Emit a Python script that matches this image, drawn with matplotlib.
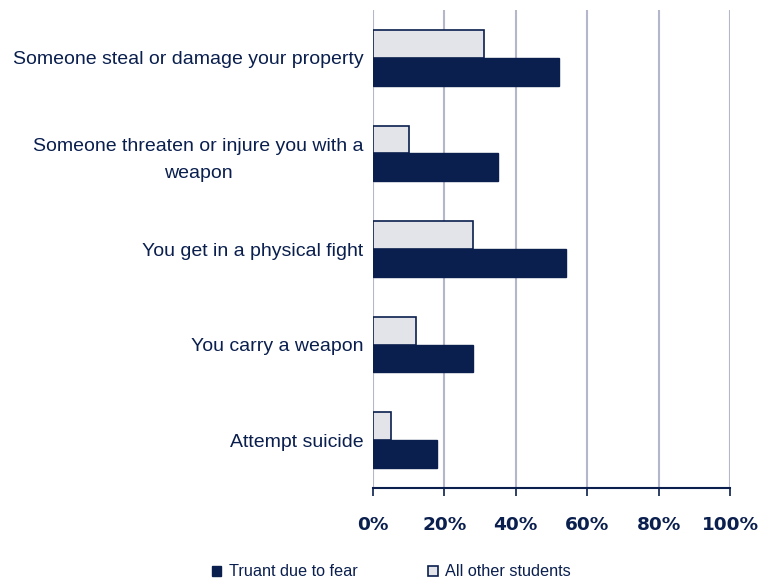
import matplotlib
matplotlib.use("Agg")
import matplotlib.pyplot as plt
import numpy as np
from matplotlib.ticker import FuncFormatter

categories = [
    "Someone steal or damage your property",
    "Someone threaten or injure you with a\nweapon",
    "You get in a physical fight",
    "You carry a weapon",
    "Attempt suicide",
]
truant_due_to_fear = [52, 35, 54, 28, 18]
all_other_students = [31, 10, 28, 12, 5]
series_labels = ["Truant due to fear", "All other students"]
x_ticks = [0, 20, 40, 60, 80, 100]

navy = "#0a1f4e"
light = "#e3e4ea"
grid_c = "#b4b6cc"

fig = plt.figure(figsize=(7.75, 5.82), dpi=100)
ax = fig.add_axes([373 / 775, 1 - 488 / 582, 357 / 775, 478 / 582])

y = np.arange(len(categories))
h = 0.29
b1 = ax.barh(y + h / 2, truant_due_to_fear, height=h, color=navy,
             edgecolor=navy, linewidth=1, label=series_labels[0], zorder=3)
b2 = ax.barh(y - h / 2, all_other_students, height=h, color=light,
             edgecolor=navy, linewidth=1.2, label=series_labels[1], zorder=3)

ax.set_ylim(len(categories) - 0.5, -0.5)
ax.set_xlim(0, 100)
ax.set_yticks(y)
ax.set_yticklabels(categories, fontsize=14.0, color=navy,
                   family="Liberation Sans")
for lbl in ax.get_yticklabels():
    lbl.set_linespacing(1.7)
    lbl.set_multialignment("center")
ax.tick_params(axis="y", length=0, pad=7)
ax.set_xticks(x_ticks)
ax.xaxis.set_major_formatter(FuncFormatter(lambda v, p: f"{v:.0f}%"))
for lbl in ax.get_xticklabels():
    lbl.set_fontweight("bold")
    lbl.set_fontsize(13.3)
    lbl.set_color(navy)
    lbl.set_family("DejaVu Sans")
ax.tick_params(axis="x", direction="out", length=6, width=1.2,
               color=navy, pad=14)

ax.grid(axis="x", color=grid_c, linewidth=1.5, zorder=0)
for s in ["top", "right", "left"]:
    ax.spines[s].set_visible(False)
ax.spines["bottom"].set_color(navy)
ax.spines["bottom"].set_linewidth(1.5)

fig.legend(handles=[b1, b2], labels=series_labels, loc="center",
           bbox_to_anchor=(0.505, 1 - 572 / 582), ncol=2, frameon=False,
           handlelength=0.6, handleheight=0.6, handletextpad=0.45,
           columnspacing=4.35, prop={"family": "Liberation Sans", "size": 11.7},
           labelcolor=navy, borderpad=0)

fig.savefig("out.png", dpi=100)
